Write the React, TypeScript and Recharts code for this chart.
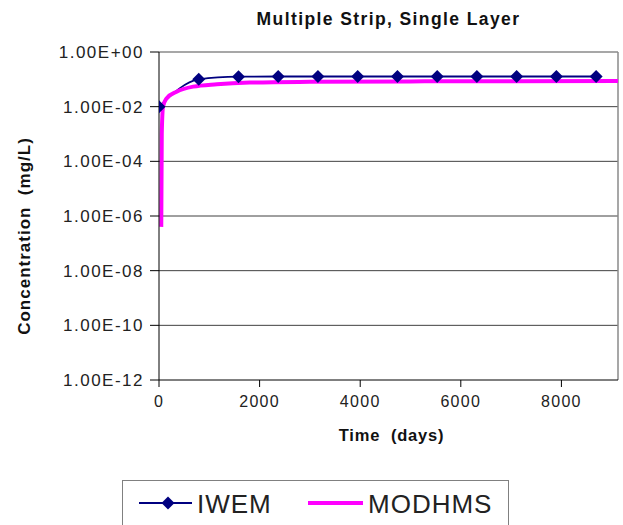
import React from "react";
import {
  LineChart,
  Line,
  XAxis,
  YAxis,
  CartesianGrid,
  ReferenceLine,
} from "recharts";

const FONT = '"Liberation Sans", Arial, sans-serif';

const X_MAX = 9125;
const X_TICKS = [0, 2000, 4000, 6000, 8000];
const Y_TICKS = [1e-12, 1e-10, 1e-8, 1e-6, 1e-4, 1e-2, 1];
const Y_TICK_LABELS = [
  "1.00E-12",
  "1.00E-10",
  "1.00E-08",
  "1.00E-06",
  "1.00E-04",
  "1.00E-02",
  "1.00E+00",
];

// IWEM
const IWEM_TIME = [0, 790, 1580, 2370, 3160, 3950, 4740, 5530, 6320, 7110, 7900, 8690];
const IWEM_CONC = [0.01, 0.1, 0.125, 0.127, 0.127, 0.127, 0.127, 0.127, 0.127, 0.127, 0.127, 0.127];

// MODHMS
const MODHMS_TIME = [45, 55, 80, 150, 350, 680, 1150, 1800, 3000, 5000, 7000, 9125];
const MODHMS_CONC = [4e-7, 1e-3, 1e-2, 0.02, 0.035, 0.054, 0.066, 0.076, 0.081, 0.084, 0.085, 0.086];

const iwem = IWEM_TIME.map((t, i) => ({ t, c: IWEM_CONC[i] }));
const modhms = MODHMS_TIME.map((t, i) => ({ t, c: MODHMS_CONC[i] }));

const Diamond = (props: any) => {
  const { cx, cy } = props;
  if (cx == null || cy == null) return null;
  const r = 6.5;
  return (
    <path
      d={`M${cx},${cy - r}L${cx + r},${cy}L${cx},${cy + r}L${cx - r},${cy}Z`}
      fill="#000080"
      stroke="none"
    />
  );
};

const xTickStyle = { fontFamily: FONT, fontSize: 16, fill: "#222", letterSpacing: 1.3 };
const yTickStyle = { fontFamily: FONT, fontSize: 17, fill: "#222", letterSpacing: 1.5 };

export default function App() {
  return (
    <div
      style={{
        position: "absolute",
        left: 0,
        top: 0,
        width: 623,
        height: 525,
        background: "#fff",
        fontFamily: FONT,
      }}
    >
      <div
        style={{
          position: "absolute",
          left: 159,
          width: 459,
          top: 9,
          textAlign: "center",
          fontWeight: "bold",
          fontSize: 17.5,
          letterSpacing: 1.4,
          color: "#111",
        }}
      >
        Multiple Strip, Single Layer
      </div>
      <LineChart
        width={623}
        height={525}
        margin={{ top: 52, right: 5, bottom: 85, left: 0 }}
      >
        <CartesianGrid
          vertical={false}
          stroke="#404040"
          horizontalValues={[1e-10, 1e-8, 1e-6, 1e-4, 1e-2]}
        />
        <ReferenceLine y={1} stroke="#8a8a8a" strokeWidth={1.5} />
        <ReferenceLine x={X_MAX} stroke="#8a8a8a" strokeWidth={1.5} />
        <XAxis
          dataKey="t"
          type="number"
          domain={[0, X_MAX]}
          ticks={X_TICKS}
          allowDataOverflow
          height={60}
          stroke="#000"
          tickSize={7}
          tickMargin={9}
          tick={xTickStyle}
          label={(p: any) => {
            const vb = p.viewBox;
            return (
              <text
                x={vb.x + vb.width / 2 + 3}
                y={vb.y + 61}
                textAnchor="middle"
                fontFamily={FONT}
                fontWeight="bold"
                fontSize={16.5}
                letterSpacing={0.8}
                fill="#111"
                style={{ whiteSpace: "pre" }}
              >
                Time  (days)
              </text>
            );
          }}
        />
        <YAxis
          dataKey="c"
          scale="log"
          type="number"
          domain={[1e-12, 1]}
          ticks={Y_TICKS}
          allowDataOverflow
          width={159}
          stroke="#000"
          tickSize={9}
          tickMargin={6}
          tick={yTickStyle}
          tickFormatter={(v: number) => Y_TICK_LABELS[Y_TICKS.indexOf(v)] ?? ""}
          label={() => (
            <text
              x={30}
              y={236}
              transform="rotate(-90 30 236)"
              textAnchor="middle"
              fontFamily={FONT}
              fontWeight="bold"
              fontSize={17}
              letterSpacing={1}
              fill="#111"
              style={{ whiteSpace: "pre" }}
            >
              Concentration  (mg/L)
            </text>
          )}
        />
        <Line
          data={iwem}
          dataKey="c"
          name="IWEM"
          type="monotone"
          stroke="#000080"
          strokeWidth={1.8}
          dot={<Diamond />}
          activeDot={false}
          isAnimationActive={false}
        />
        <Line
          data={modhms}
          dataKey="c"
          name="MODHMS"
          type="monotone"
          stroke="#FF00FF"
          strokeWidth={4}
          dot={false}
          activeDot={false}
          isAnimationActive={false}
        />
      </LineChart>
      <div
        style={{
          position: "absolute",
          left: 122,
          top: 480,
          width: 387,
          height: 48,
          border: "1.5px solid #808080",
          boxSizing: "border-box",
        }}
      >
        <svg width={385} height={45} style={{ display: "block" }}>
          <line x1={16} x2={69} y1={22} y2={22} stroke="#000080" strokeWidth={2} />
          <path d="M45,15.5L51.5,22L45,28.5L38.5,22Z" fill="#000080" />
          <text x={74} y={32} fontFamily={FONT} fontSize={26} letterSpacing={1} fill="#222">
            IWEM
          </text>
          <line x1={185} x2={240} y1={22} y2={22} stroke="#FF00FF" strokeWidth={4} />
          <text x={245} y={32} fontFamily={FONT} fontSize={26} letterSpacing={1} fill="#222">
            MODHMS
          </text>
        </svg>
      </div>
    </div>
  );
}
